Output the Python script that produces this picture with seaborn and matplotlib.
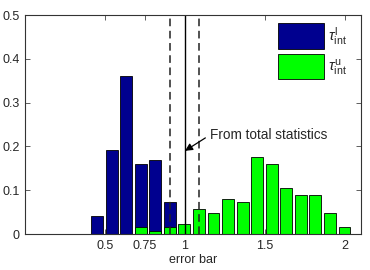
import numpy as np
import pandas as pd
import matplotlib as mpl
mpl.use('Agg')
import matplotlib.pyplot as plt
from matplotlib.patches import Patch
import seaborn as sns

# histogram bin centres (shared grid) and normalised counts
lower_centers = [0.45, 0.541, 0.632, 0.723, 0.814, 0.905]
lower_frac = [0.040, 0.192, 0.360, 0.160, 0.168, 0.072]

upper_centers = [0.723, 0.814, 0.905, 0.996, 1.087, 1.178, 1.269, 1.360,
                 1.451, 1.542, 1.633, 1.724, 1.815, 1.906, 1.997]
upper_frac = [0.016, 0.007, 0.016, 0.024, 0.056, 0.049, 0.081, 0.073,
              0.177, 0.160, 0.106, 0.088, 0.088, 0.049, 0.017]

total_value = 1.0
total_band = [0.905, 1.09]

xticks = [0.5, 0.75, 1, 1.5, 2]
xtick_labels = ['0.5', '0.75', '1', '1.5', '2']
yticks = [0, 0.1, 0.2, 0.3, 0.4, 0.5]
ytick_labels = ['0', '0.1', '0.2', '0.3', '0.4', '0.5']

sns.set_style('ticks')
plt.rcParams['font.family'] = ['Liberation Sans', 'DejaVu Sans']
plt.rcParams['mathtext.fontset'] = 'custom'
plt.rcParams['mathtext.rm'] = 'Liberation Sans'
plt.rcParams['mathtext.it'] = 'Liberation Sans:italic'

navy = '#00008F'
green = '#00FF00'

fig = plt.figure(figsize=(3.7, 2.7), dpi=100)
ax = fig.add_axes([0.0676, 0.1333, 0.9081, 0.8107])

low = pd.DataFrame({'x': lower_centers, 'y': lower_frac})
up = pd.DataFrame({'x': upper_centers, 'y': upper_frac})
sns.barplot(data=low, x='x', y='y', native_scale=True, color=navy, saturation=1,
            width=0.82, edgecolor='black', linewidth=0.6, ax=ax)
sns.barplot(data=up, x='x', y='y', native_scale=True, color=green, saturation=1,
            width=0.82, edgecolor='black', linewidth=0.6, ax=ax)

# reference lines
ax.axvline(total_value, color='black', lw=1.0)
for xv in total_band:
    ax.axvline(xv, color='#222222', lw=1.1, ls=(0, (5, 3)))

ax.annotate('From total statistics', xy=(total_value, 0.19), xytext=(1.155, 0.226),
            fontsize=9.8, ha='left', va='center',
            arrowprops=dict(arrowstyle='-|>', color='black', lw=0.9,
                            mutation_scale=11, relpos=(0, 0.5), shrinkA=1, shrinkB=0))

ax.set_xlim(0, 2.1)
ax.set_ylim(0, 0.5)
ax.set_xticks(xticks)
ax.set_xticklabels(xtick_labels)
ax.set_yticks(yticks)
ax.set_yticklabels(ytick_labels)
ax.set_xlabel('error bar', fontsize=9, labelpad=2)
ax.set_ylabel('')
ax.tick_params(direction='in', length=3.5, width=0.6, top=True, right=True,
               labelsize=9, pad=4, color='#444444')
for s in ax.spines.values():
    s.set_linewidth(0.8)
    s.set_color('#333333')

handles = [Patch(facecolor=navy, edgecolor='black', lw=0.6),
           Patch(facecolor=green, edgecolor='black', lw=0.6)]
ax.legend(handles, [r'$\tau_{\rm int}^{\rm l}$', r'$\tau_{\rm int}^{\rm u}$'],
          loc='upper right', frameon=False, fontsize=11,
          handlelength=3.0, handleheight=2.2, labelspacing=0.3,
          handletextpad=0.25, borderaxespad=0.0, bbox_to_anchor=(0.975, 0.99))

fig.savefig('out.png', dpi=100)
